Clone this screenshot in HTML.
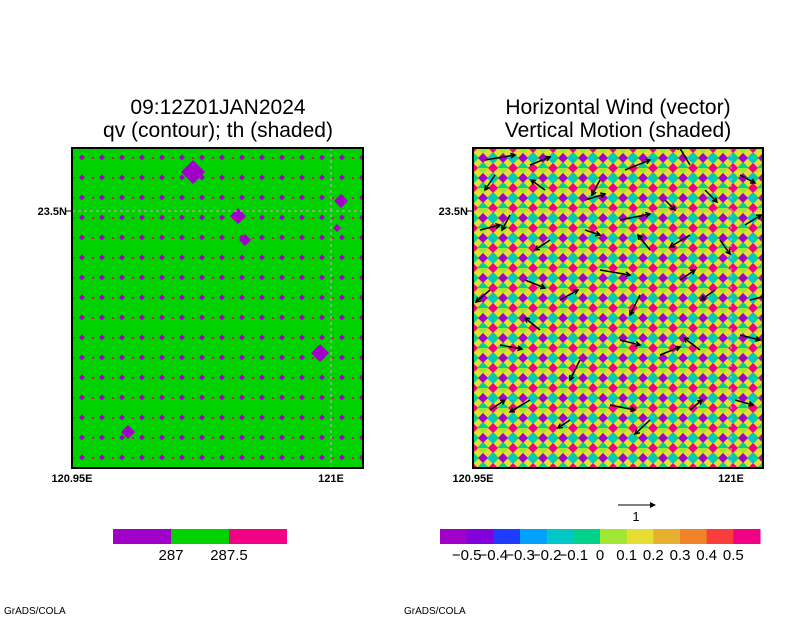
<!DOCTYPE html>
<html><head><meta charset="utf-8"><style>
html,body{margin:0;padding:0;background:#fff}
svg{display:block;font-family:"Liberation Sans","DejaVu Sans",sans-serif}
</style></head><body>
<svg id="c" width="800" height="618" viewBox="0 0 800 618">
<defs>
<clipPath id="rc"><rect x="473" y="148" width="290" height="320"/></clipPath>
<pattern id="lp" x="72" y="148" width="20" height="20" patternUnits="userSpaceOnUse">
<rect width="20" height="20" fill="#00d200"/>
<polygon points="10,6.5 13,9.5 10,12.5 7,9.5" fill="#a000c8"/>
<rect x="0" y="9" width="2" height="2" fill="#f00082"/>
<rect x="9.5" y="-0.5" width="1" height="1" fill="#a000c8"/>
</pattern>
<pattern id="rp" x="473" y="148" width="20" height="20" patternUnits="userSpaceOnUse">
<rect width="20" height="20" fill="#e6dc32"/>
<polygon points="0,4 6,10 0,16" fill="#00d28c"/>
<polygon points="20,4 14,10 20,16" fill="#00c8c8"/>
<polygon points="4,0 10,6 16,0" fill="#a0e632"/>
<polygon points="4,20 10,14 16,20" fill="#00d28c"/>
<polygon points="0,0 5,0 0,5" fill="#f00082"/><polygon points="20,0 15,0 20,5" fill="#f00082"/>
<polygon points="0,20 5,20 0,15" fill="#f00082"/><polygon points="20,20 15,20 20,15" fill="#f00082"/>
<polygon points="10,5 15,10 10,15 5,10" fill="#a000c8"/>
</pattern>
</defs>
<g>
<text x="218" y="114" font-size="21" text-anchor="middle">09:12Z01JAN2024</text>
<text x="218" y="137" font-size="21" text-anchor="middle">qv (contour); th (shaded)</text>
<rect x="72" y="148" width="291" height="320" fill="url(#lp)"/>
<g id="bigL"></g>
<line x1="72" y1="211" x2="363" y2="211" stroke="#bbb" stroke-dasharray="3,3"/>
<line x1="331" y1="148" x2="331" y2="468" stroke="#bbb" stroke-dasharray="3,3"/>
<rect x="72" y="148" width="291" height="320" fill="none" stroke="#000" stroke-width="2"/>
<line x1="66" y1="211" x2="72" y2="211" stroke="#000"/>
<text x="67" y="215" font-size="11" text-anchor="end" font-weight="bold">23.5N</text>
<text x="72" y="482" font-size="11" text-anchor="middle" font-weight="bold">120.95E</text>
<text x="331" y="482" font-size="11" text-anchor="middle" font-weight="bold">121E</text>
<rect x="113" y="529" width="58" height="15" fill="#a000c8"/>
<rect x="171" y="529" width="58" height="15" fill="#00d200"/>
<rect x="229" y="529" width="58" height="15" fill="#f00082"/>
<text x="171" y="560" font-size="15" text-anchor="middle">287</text>
<text x="229" y="560" font-size="15" text-anchor="middle">287.5</text>
<text x="4" y="614" font-size="10">GrADS/COLA</text>
</g>
<g>
<text x="618" y="114" font-size="21" text-anchor="middle">Horizontal Wind (vector)</text>
<text x="618" y="137" font-size="21" text-anchor="middle">Vertical Motion (shaded)</text>
<rect x="473" y="148" width="290" height="320" fill="url(#rp)"/>
<line x1="473" y1="211" x2="763" y2="211" stroke="#bbb" stroke-dasharray="3,3"/>
<line x1="731" y1="148" x2="731" y2="468" stroke="#bbb" stroke-dasharray="3,3"/>
<g id="arrows" clip-path="url(#rc)"></g>
<rect x="473" y="148" width="290" height="320" fill="none" stroke="#000" stroke-width="2"/>
<line x1="467" y1="211" x2="473" y2="211" stroke="#000"/>
<text x="468" y="215" font-size="11" text-anchor="end" font-weight="bold">23.5N</text>
<text x="473" y="482" font-size="11" text-anchor="middle" font-weight="bold">120.95E</text>
<text x="731" y="482" font-size="11" text-anchor="middle" font-weight="bold">121E</text>
<g>
<line x1="618" y1="505" x2="655" y2="505" stroke="#000"/>
<polygon points="656,505 650,502 650,508" fill="#000"/>
<text x="636" y="521" font-size="13" text-anchor="middle">1</text>
</g>
<g id="cbar"></g>
<text x="404" y="614" font-size="10">GrADS/COLA</text>
</g>
</svg>
<script>
var cbColors=["#a000c8","#8200dc","#1e3cff","#00a0ff","#00c8c8","#00d28c","#a0e632","#e6dc32","#e6af2d","#f08228","#fa3c3c","#f00082"];
var cbLabels=["\u22120.5","\u22120.4","\u22120.3","\u22120.2","\u22120.1","0","0.1","0.2","0.3","0.4","0.5"];
var bigX=[193,238,341,320,128,245,337];
var bigY=[172,216,201,353,432,240,228];
var bigR=[12,8,7,9,7,6,4];
var arrX=[485,495,530,545,585,600,625,665,690,705,740,480,510,550,585,620,650,690,720,745,490,525,560,600,640,680,715,750,500,540,580,620,660,700,740,490,530,570,610,650,690,735];
var arrY=[160,175,165,190,200,180,170,200,165,190,175,230,215,240,230,220,250,235,240,225,290,280,300,270,295,280,290,300,345,330,360,340,355,350,335,410,400,420,405,420,410,400];
var arrU=[30,-10,20,-14,20,-8,25,10,-12,12,15,20,-8,-15,15,30,-12,-20,10,16,-14,20,18,30,-10,15,-14,20,22,-15,-10,20,20,-16,20,15,-20,-12,25,-15,12,18];
var arrV=[-5,15,-8,-10,-6,15,-10,10,-20,12,8,-5,15,10,5,-6,-15,12,14,-10,12,8,-10,5,20,-10,10,-5,4,-12,20,5,-8,-12,5,-10,12,8,5,14,-10,5];
var NS="http://www.w3.org/2000/svg";
var gL=document.getElementById('bigL');
for(var i=0;i<bigX.length;i++){
 var p=document.createElementNS(NS,'polygon');var x=bigX[i],y=bigY[i],r=bigR[i];
 p.setAttribute('points',x+','+(y-r)+' '+(x+r)+','+y+' '+x+','+(y+r)+' '+(x-r)+','+y);
 p.setAttribute('fill','#a000c8');
 
 
 gL.appendChild(p);
}
var gA=document.getElementById('arrows');
for(var i=0;i<arrX.length;i++){
 var x0=arrX[i],y0=arrY[i],x1=x0+arrU[i],y1=y0+arrV[i];
 var g=document.createElementNS(NS,'g');
 
 
 var l=document.createElementNS(NS,'line');
 l.setAttribute('x1',x0);l.setAttribute('y1',y0);l.setAttribute('x2',x1);l.setAttribute('y2',y1);
 l.setAttribute('stroke','#000');l.setAttribute('stroke-width','1.5');g.appendChild(l);
 var a=Math.atan2(y1-y0,x1-x0),h=5;
 var h1=document.createElementNS(NS,'polyline');
 h1.setAttribute('points',(x1-h*Math.cos(a-0.5))+','+(y1-h*Math.sin(a-0.5))+' '+x1+','+y1+' '+(x1-h*Math.cos(a+0.5))+','+(y1-h*Math.sin(a+0.5)));
 h1.setAttribute('fill','none');h1.setAttribute('stroke','#000');h1.setAttribute('stroke-width','1.5');g.appendChild(h1);
 gA.appendChild(g);
}
var gC=document.getElementById('cbar');var w=320/cbColors.length;
for(var i=0;i<cbColors.length;i++){
 var r=document.createElementNS(NS,'rect');
 r.setAttribute('x',440+i*w);r.setAttribute('y',529);r.setAttribute('width',w+0.5);r.setAttribute('height',15);r.setAttribute('fill',cbColors[i]);
 
 
 gC.appendChild(r);
}
for(var i=0;i<cbLabels.length;i++){
 var t=document.createElementNS(NS,'text');
 t.setAttribute('x',440+(i+1)*w);t.setAttribute('y',560);t.setAttribute('font-size','15');t.setAttribute('text-anchor','middle');
 t.textContent=cbLabels[i];
 
 
 gC.appendChild(t);
}
</script>
</body></html>
